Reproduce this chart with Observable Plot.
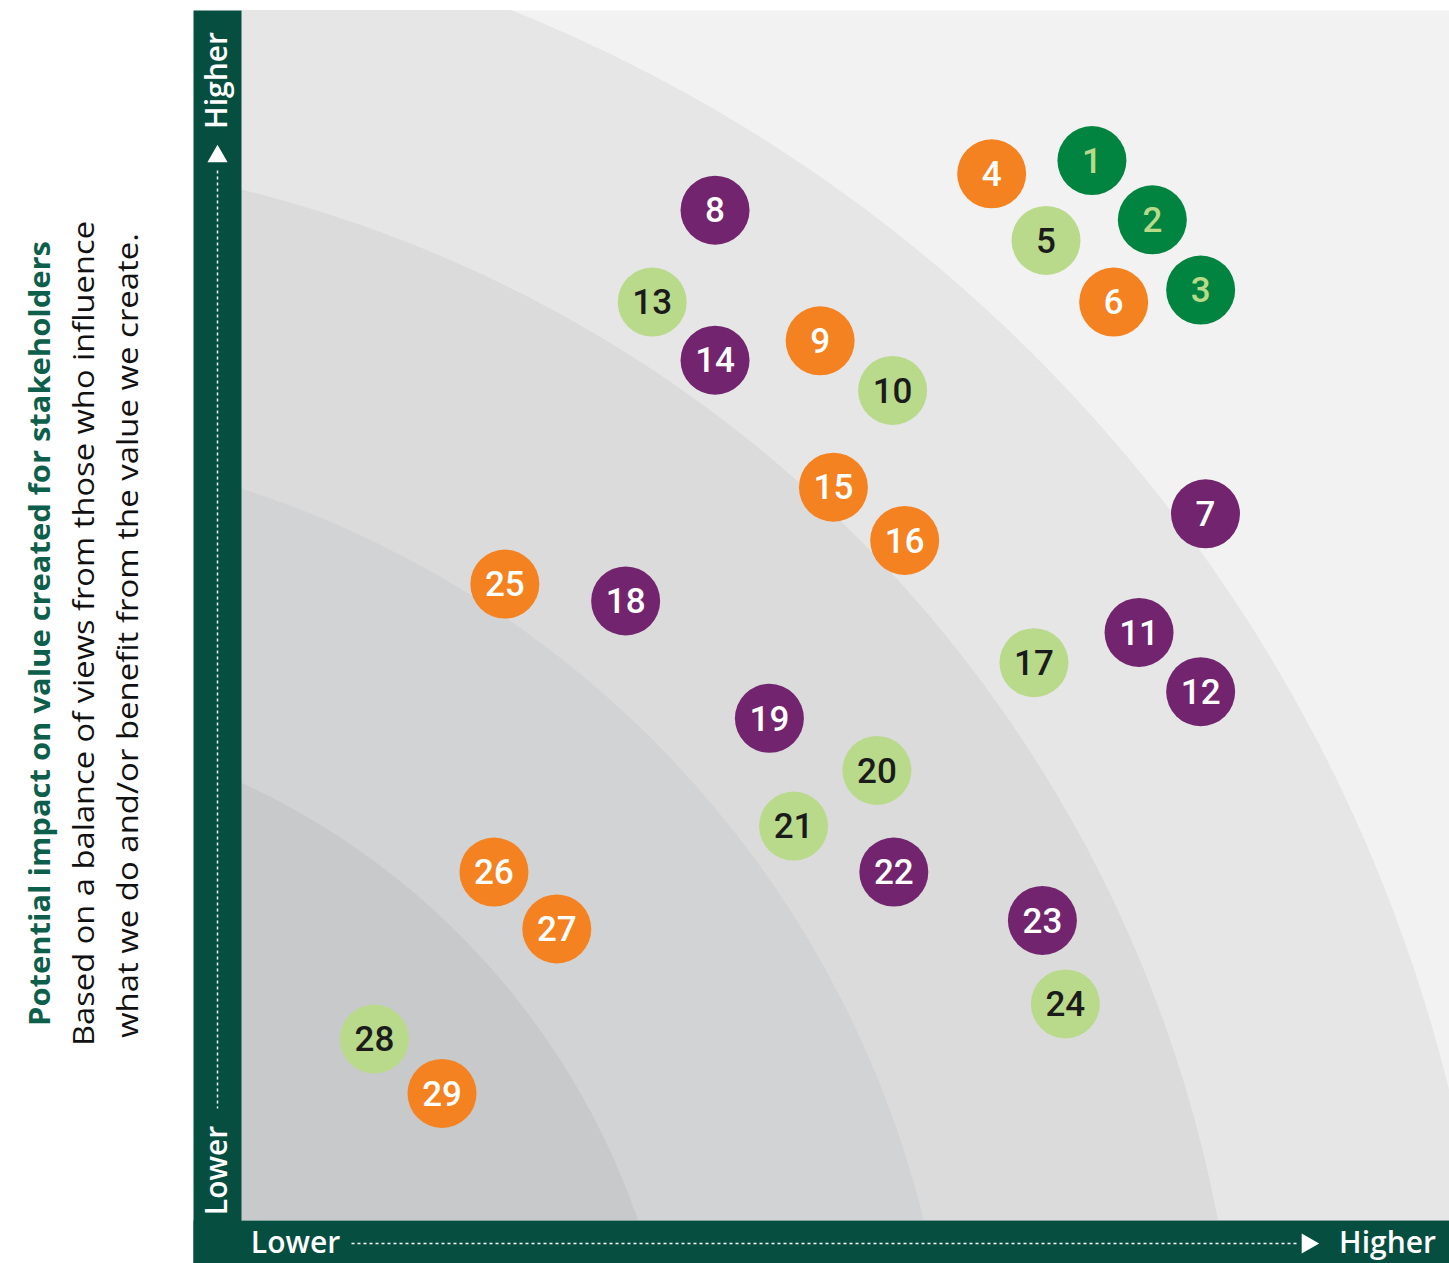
<!DOCTYPE html>
<html><head><meta charset="utf-8">
<script src="https://cdn.jsdelivr.net/npm/d3@7"></script>
<script src="https://cdn.jsdelivr.net/npm/@observablehq/plot@0.6"></script>
<style>
html,body{margin:0;padding:0;background:#fff;}
#chart svg{display:block;}
</style></head><body><div id="chart"></div>
<script>
// ---- data ----
const ids    = [1,2,3,4,5,6,7,8,9,10,11,12,13,14,15,16,17,18,19,20,21,22,23,24,25,26,27,28,29];
const groups = ["G","G","G","O","L","O","P","P","O","L","P","P","L","P","O","O","L","P","P","L","L","P","P","L","O","O","O","L","O"];
const xVals  = [70.4,75.4,79.4,62.1,66.6,72.2,79.8,39.2,47.9,53.9,74.3,79.4,34.0,39.2,49.0,54.9,65.6,31.8,43.7,52.6,45.7,54.0,66.3,68.2,21.8,20.9,26.1,11.0,16.6];
const yVals  = [87.6,82.7,76.9,86.5,81.0,75.9,58.4,83.5,72.7,68.6,48.6,43.7,75.9,71.1,60.6,56.2,46.1,51.2,41.5,37.2,32.6,28.8,24.8,17.9,52.6,28.8,24.1,15.0,10.5];
const groupKeys  = ["G","O","L","P"];
const groupFill  = ["#00843F","#F58220","#B9DA8B","#72246E"];
const groupLabel = ["#B9DA8B","#FFFFFF","#1B1B1B","#FFFFFF"];
const bandRadii  = [129.7,108.7,84.9,62.2];
const bandFill   = ["#E6E6E6","#DBDBDC","#D2D3D4","#C8C9CB"];
const bandCenter = [-25.9,-20.4];
const lowLabel = "Lower", highLabel = "Higher";
const titleLines = [
  "Potential impact on value created for stakeholders",
  "Based on a balance of views from those who influence",
  "what we do and/or benefit from the value we create."
];

// ---- build ----
const points = ids.map((id,i)=>({id, group:groups[i], x:xVals[i], y:yVals[i]}));
const [cx, cy] = bandCenter;
const bandMarks = bandRadii.map((r,k)=>{
  const pts = d3.range(0, 100.001, 0.25).filter(x => Math.abs(x-cx) <= r)
    .map(x => ({x, y2: cy + Math.sqrt(r*r - (x-cx)*(x-cx))}));
  return Plot.area(pts, {x1:"x", y1:0, y2:"y2", fill:bandFill[k], clip:true});
});
const dotMarks = groupKeys.flatMap((g,k)=>{
  const d = points.filter(p=>p.group===g);
  return [
    Plot.dot(d, {x:"x", y:"y", r:34.5, fill:groupFill[k], stroke:"none"}),
    Plot.text(d, {x:"x", y:"y", text:"id", fill:groupLabel[k], fontSize:35, fontWeight:500, dy:1, fontFamily:"Roboto"})
  ];
});
const barColor = "#064E40";
const chart = Plot.plot({
  width:1449, height:1263,
  marginLeft:241, marginRight:0, marginTop:10, marginBottom:43,
  x:{domain:[0,100], axis:null},
  y:{domain:[0,100], axis:null},
  style:{fontFamily:"Roboto", background:"white", overflow:"visible"},
  marks:[
    Plot.frame({fill:"#F2F2F2"}),
    ...bandMarks,
    Plot.frame({anchor:"left", stroke:barColor, strokeWidth:48, strokeLinecap:"butt", dx:-24, insetBottom:-43}),
    Plot.frame({anchor:"bottom", stroke:barColor, strokeWidth:43, strokeLinecap:"butt", dy:21.5, insetLeft:-48}),
    Plot.frame({anchor:"left", stroke:"white", strokeWidth:1.5, strokeLinecap:"butt", strokeDasharray:"3 3", dx:-24, insetTop:160, insetBottom:112}),
    Plot.frame({anchor:"bottom", stroke:"white", strokeWidth:1.5, strokeLinecap:"butt", strokeDasharray:"3 3", dy:23, insetLeft:110, insetRight:150}),
    Plot.dot([highLabel], {frameAnchor:"top-left", dx:-24, dy:146, symbol:"triangle", r:7.5, fill:"white"}),
    Plot.dot([highLabel], {frameAnchor:"bottom-right", dx:-142, dy:23, symbol:"triangle", r:7.5, fill:"white", rotate:90}),
    Plot.text([highLabel], {frameAnchor:"top-left", dx:-24, dy:70, rotate:-90, fill:"white", fontSize:30, fontWeight:600, fontFamily:"Open Sans", textAnchor:"middle", lineAnchor:"middle", text:d=>d}),
    Plot.text([lowLabel], {frameAnchor:"bottom-left", dx:-24, dy:-50, rotate:-90, fill:"white", fontSize:30, fontWeight:600, fontFamily:"Open Sans", textAnchor:"middle", lineAnchor:"middle", text:d=>d}),
    Plot.text([lowLabel], {frameAnchor:"bottom-left", dx:54, dy:23, fill:"white", fontSize:30, fontWeight:600, fontFamily:"Open Sans", textAnchor:"middle", lineAnchor:"middle", text:d=>d}),
    Plot.text([highLabel], {frameAnchor:"bottom-right", dx:-62, dy:23, fill:"white", fontSize:30, fontWeight:600, fontFamily:"Open Sans", textAnchor:"middle", lineAnchor:"middle", text:d=>d}),
    Plot.text([titleLines[0]], {frameAnchor:"left", dx:-201, dy:18, rotate:-90, fill:"#0D5E4A", fontSize:29, fontWeight:700, fontFamily:"Open Sans", textAnchor:"middle", lineAnchor:"middle", text:d=>d}),
    Plot.text([titleLines[1]], {frameAnchor:"left", dx:-157, dy:18, rotate:-90, fill:"#111", fontSize:30, fontWeight:400, fontFamily:"Open Sans", textAnchor:"middle", lineAnchor:"middle", text:d=>d}),
    Plot.text([titleLines[2]], {frameAnchor:"left", dx:-113, dy:20, rotate:-90, fill:"#111", fontSize:30, fontWeight:400, fontFamily:"Open Sans", textAnchor:"middle", lineAnchor:"middle", text:d=>d}),
    ...dotMarks
  ]
});
document.getElementById("chart").appendChild(chart);
// fit title lines to their measured lengths
const lens = [785, 825, 805];
chart.querySelectorAll("text").forEach(t=>{
  const i = titleLines.indexOf(t.textContent);
  if (i >= 0) { t.setAttribute("textLength", lens[i]); t.setAttribute("lengthAdjust","spacingAndGlyphs"); }
});
</script></body></html>
